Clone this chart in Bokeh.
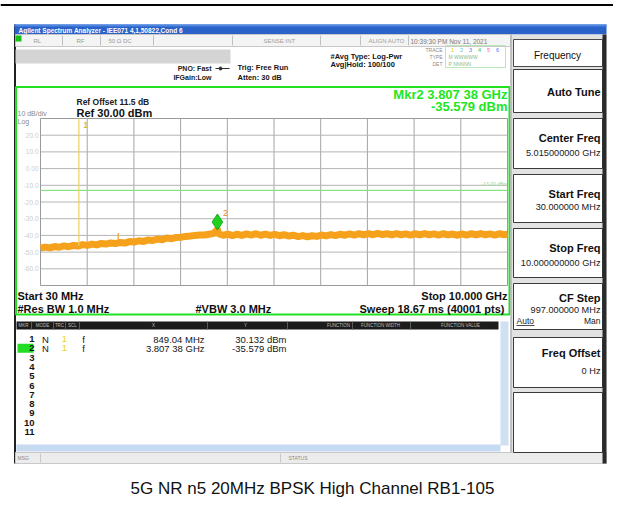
from bokeh.plotting import figure
from bokeh.models import Range1d
from bokeh.embed import file_html
from bokeh.resources import INLINE
from bokeh.core.properties import value

# ---------------- data ----------------
start_ghz = 0.03
stop_ghz = 10.0
ref_dbm = 30.0
bottom_dbm = -70.0
display_line_dbm = -13.0

freq_ghz = [0.03, 0.13, 0.23, 0.33, 0.43, 0.53, 0.63, 0.73, 0.83, 0.93,
            1.03, 1.13, 1.23, 1.33, 1.43, 1.53, 1.63, 1.73, 1.83, 1.93,
            2.03, 2.13, 2.23, 2.33, 2.43, 2.53, 2.63, 2.73, 2.83, 2.93,
            3.03, 3.13, 3.23, 3.33, 3.43, 3.53, 3.63, 3.73, 3.807, 3.83, 3.93,
            4.03, 4.13, 4.23, 4.33, 4.43, 4.53, 4.63, 4.73, 4.83, 4.93,
            5.03, 5.13, 5.23, 5.33, 5.43, 5.53, 5.63, 5.73, 5.83, 5.93,
            6.03, 6.13, 6.23, 6.33, 6.43, 6.53, 6.63, 6.73, 6.83, 6.93,
            7.03, 7.13, 7.23, 7.33, 7.43, 7.53, 7.63, 7.73, 7.83, 7.93,
            8.03, 8.13, 8.23, 8.33, 8.43, 8.53, 8.63, 8.73, 8.83, 8.93,
            9.03, 9.13, 9.23, 9.33, 9.43, 9.53, 9.63, 9.73, 9.83, 9.93, 10.0]
level_dbm = [-47.6, -47.0, -47.5, -46.7, -47.1, -46.3, -46.8, -46.0, -46.4, -45.5,
             -46.0, -45.2, -45.7, -44.8, -45.2, -44.5, -44.9, -44.2, -44.6, -43.7,
             -44.0, -43.2, -43.6, -42.7, -43.0, -42.2, -42.6, -41.6, -42.0, -41.2,
             -41.1, -40.6, -40.4, -40.0, -39.7, -39.8, -39.3, -38.8, -36.4, -39.0, -39.9,
             -39.2, -40.1, -39.3, -40.0, -39.1, -39.8, -39.0, -39.9, -39.2, -40.0,
             -39.4, -40.2, -39.6, -40.4, -39.9, -40.7, -40.1, -40.8, -40.2, -40.6,
             -39.8, -40.3, -39.5, -40.1, -39.3, -39.9, -39.1, -39.8, -39.0, -39.7,
             -38.9, -39.6, -38.8, -39.5, -39.0, -39.7, -38.9, -39.6, -39.1, -39.8,
             -39.0, -39.7, -38.9, -39.6, -39.1, -39.8, -39.0, -39.7, -39.2, -39.9,
             -39.1, -39.8, -39.0, -39.7, -38.9, -39.6, -39.1, -39.8, -39.0, -39.6, -39.3]

spur_freq_ghz = [1.69]
spur_level_dbm = [-38.5]
spur_floor_dbm = [-44.6]

x_grid_ghz = [1.027, 2.024, 3.021, 4.018, 5.015, 6.012, 7.009, 8.006, 9.003]
y_ticks_dbm = [20, 10, 0, -10, -20, -30, -40, -50, -60]
y_tick_labels = ["20.0", "10.0", "0.00", "-10.0", "-20.0", "-30.0", "-40.0", "-50.0", "-60.0"]

mkr_ids = ["1", "2"]
mkr_freq_ghz = [0.84904, 3.80738]
mkr_level_dbm = [30.132, -35.579]
mkr_floor_dbm = -46.2
mkr_x_text = ["849.04 MHz", "3.807 38 GHz"]
mkr_y_text = ["30.132 dBm", "-35.579 dBm"]

softkey_labels = ["Auto Tune", "Center Freq", "Start Freq", "Stop Freq", "CF Step", "Freq Offset"]
softkey_values = ["", "5.015000000 GHz", "30.000000 MHz", "10.000000000 GHz", "997.000000 MHz", "0 Hz"]

caption = "5G NR n5 20MHz BPSK High Channel RB1-105"

# ---------------- figure ----------------
W, H = 613, 506
p = figure(width=W, height=H, x_range=Range1d(0, W), y_range=Range1d(H, 0),
           output_backend="svg", toolbar_location=None, min_border=0,
           x_axis_location=None, y_axis_location=None)
p.grid.visible = False
p.outline_line_color = None
p.background_fill_color = "white"
p.border_fill_color = "white"

# graticule pixel box (page coords) -> extra ranges for the spectrum
GX0, GX1, GY0, GY1 = 40, 507, 118, 285
fpp = (stop_ghz - start_ghz) / (GX1 - GX0)
dpp = (ref_dbm - bottom_dbm) / (GY1 - GY0)
p.extra_x_ranges = {"f": Range1d(start_ghz - GX0 * fpp, stop_ghz + (W - GX1) * fpp)}
p.extra_y_ranges = {"db": Range1d(bottom_dbm - (H - GY1) * dpp, ref_dbm + GY0 * dpp)}
SPEC = dict(x_range_name="f", y_range_name="db")

FONT = "Liberation Sans"


def rect(x0, y0, x1, y1, fill, line=None, lw=1):
    p.quad(left=[x0], right=[x1], top=[y0], bottom=[y1], fill_color=fill,
           line_color=line, line_width=lw)


def seg(x0, y0, x1, y1, color, lw=1):
    p.segment(x0=[x0], y0=[y0], x1=[x1], y1=[y1], line_color=color, line_width=lw)


def txt(x, y, s, size, color="#151515", align="left", bold=False, baseline="middle"):
    p.text(x=[x], y=[y], text=[s], text_font=value(FONT), text_font_size=f"{size}px",
           text_color=color, text_align=align, text_baseline=baseline,
           text_font_style="bold" if bold else "normal")


# top rule
seg(0, 4.5, W, 4.5, "#000000", 2)

# window frame
rect(14, 24, 606, 463, "#ffffff", None)
seg(14.5, 24, 14.5, 463, "#202020", 2)
# title bar
rect(14, 24, 606, 34, "#2a62c9", None)
rect(14, 24, 606, 26, "#4f86e0", None)
txt(18, 29.5, "Agilent Spectrum Analyzer - IEE071 4,1,50822,Cond 6", 6.5, "#ffffff", bold=True)

# toolbar row
rect(15, 34, 510, 46, "#f4f4f4", "#c8c8c8")
rect(15, 35, 21, 41, "#16c216", None)
for sx in [62, 100, 153, 232, 320, 360, 408]:
    seg(sx, 35, sx, 45, "#c0c0c0")
txt(33, 40, "RL", 6, "#9a9a9a")
txt(76, 40, "RF", 6, "#9a9a9a")
txt(108, 40, "50 \u03a9  DC", 6, "#9a9a9a")
txt(263, 40, "SENSE:INT", 6, "#a0a0a0")
txt(368, 40, "ALIGN AUTO", 6, "#a0a0a0")
txt(410, 41, "10:39:30 PM Nov 11, 2021", 6.5, "#7a7a7a")

# settings area
rect(15, 49, 230, 63, "#d4d4d4", None)
txt(211, 68, "PNO: Fast", 7, "#202020", align="right", bold=True)
seg(215, 68, 229, 68, "#303030", 1)
p.scatter(x=[220], y=[68], size=3, color="#303030")
txt(211, 77, "IFGain:Low", 7, "#202020", align="right", bold=True)
txt(237, 67, "Trig: Free Run", 7.5, "#151515", bold=True)
txt(237, 77, "Atten: 30 dB", 7.5, "#151515", bold=True)
txt(330, 56, "#Avg Type: Log-Pwr", 7.5, "#151515", bold=True)
txt(330, 64, "Avg|Hold: 100/100", 7.5, "#151515", bold=True)
txt(442, 49, "TRACE", 5, "#8a8a8a", align="right")
txt(442, 56, "TYPE", 5, "#8a8a8a", align="right")
txt(442, 63, "DET", 5, "#8a8a8a", align="right")
rect(445, 45, 505, 67, None, "#b8e8b8")
for i, c in enumerate(["#d8c800", "#38c8e8", "#6a6aff", "#30c030", "#ff60c0", "#4080ff"]):
    txt(452 + i * 9, 49, str(i + 1), 5.5, c, align="center")
txt(448, 56, "M WWWWW", 5, "#8ab88a")
txt(448, 63, "P NNNNN", 5, "#8ab88a")

# green measurement frame
rect(15.5, 86.5, 509, 314, "#ffffff", "#22e022", 2)
txt(76, 101, "Ref Offset 11.5 dB", 8.5, "#202020", bold=True)
txt(76, 112, "Ref 30.00 dBm", 11, "#101010", bold=True)
txt(17, 113, "10 dB/div", 7, "#8a8a8a")
txt(17, 121, "Log", 7, "#8a8a8a")
txt(507, 94, "Mkr2 3.807 38 GHz", 13, "#1ee61e", align="right", bold=True)
txt(507, 106, "-35.579 dBm", 13, "#1ee61e", align="right", bold=True)
txt(17, 295, "Start 30 MHz", 11, "#101010", bold=True)
txt(17, 308, "#Res BW 1.0 MHz", 11, "#101010", bold=True)
txt(195, 308, "#VBW 3.0 MHz", 11, "#101010", bold=True)
txt(507, 295, "Stop 10.000 GHz", 11, "#101010", align="right", bold=True)
txt(507, 308, "Sweep  18.67 ms (40001 pts)", 11, "#101010", align="right", bold=True)

# graticule
n = len(x_grid_ghz)
p.segment(x0=x_grid_ghz, y0=[bottom_dbm] * n, x1=x_grid_ghz, y1=[ref_dbm] * n,
          line_color="#a4a4a4", line_width=1, **SPEC)
m = len(y_ticks_dbm)
p.segment(x0=[start_ghz] * m, y0=y_ticks_dbm, x1=[stop_ghz] * m, y1=y_ticks_dbm,
          line_color="#b4b4b4", line_width=1, **SPEC)
p.quad(left=[start_ghz], right=[stop_ghz], top=[ref_dbm], bottom=[bottom_dbm],
       fill_color=None, line_color="#9a9a9a", line_width=1, **SPEC)
p.text(x=[start_ghz] * m, y=y_ticks_dbm, text=y_tick_labels, x_offset=-2,
       text_font=value(FONT), text_font_size="6.5px", text_color="#cdcdcd",
       text_align="right", text_baseline="middle", **SPEC)

# display line
p.segment(x0=[start_ghz], y0=[display_line_dbm], x1=[stop_ghz], y1=[display_line_dbm],
          line_color="#86e486", line_width=1.2, **SPEC)
p.text(x=[stop_ghz], y=[display_line_dbm], text=["-13.00 dBm"], y_offset=-3,
       text_font=value(FONT), text_font_size="5px", text_color="#9ad89a",
       text_align="right", text_baseline="bottom", **SPEC)

# trace
p.line(x=freq_ghz, y=level_dbm, line_color="#f6a11c", line_width=7,
       line_join="round", **SPEC)
p.segment(x0=spur_freq_ghz, y0=spur_floor_dbm, x1=spur_freq_ghz, y1=spur_level_dbm,
          line_color="#f3a030", line_width=1.2, **SPEC)

# marker 1 carrier spike and markers
p.segment(x0=[mkr_freq_ghz[0]], y0=[mkr_floor_dbm], x1=[mkr_freq_ghz[0]], y1=[mkr_level_dbm[0]],
          line_color="#ecd25a", line_width=1.2, **SPEC)
p.text(x=[mkr_freq_ghz[0]], y=[mkr_level_dbm[0]], text=[mkr_ids[0]], x_offset=7, y_offset=7,
       text_font=value(FONT), text_font_size="9px", text_color="#d8c020",
       text_align="center", text_baseline="middle", text_font_style="bold", **SPEC)
p.scatter(x=[mkr_freq_ghz[1]], y=[mkr_level_dbm[1] + 6 * dpp], marker="diamond", size=16,
          fill_color="#1ed21e", line_color="#0a9a0a", line_width=0.8, **SPEC)
p.text(x=[mkr_freq_ghz[1]], y=[mkr_level_dbm[1]], text=[mkr_ids[1]], x_offset=8, y_offset=-15,
       text_font=value(FONT), text_font_size="9px", text_color="#f08a20",
       text_align="center", text_baseline="middle", **SPEC)

# marker table
rect(15.5, 316, 509, 452, "#ffffff", None)
rect(16, 321, 498, 329, "#1c1c1c", None)
for hx, hs in [(23, "MKR"), (42, "MODE"), (59, "TRC"), (72, "SCL"), (153, "X"), (245, "Y"),
               (338, "FUNCTION"), (380, "FUNCTION WIDTH"), (460, "FUNCTION VALUE")]:
    txt(hx, 325, hs, 4.5, "#bdbdbd", align="center")
for sx in [31, 53, 65, 79, 207, 287, 352, 410]:
    seg(sx, 321, sx, 329, "#5a5a5a")
rect(500, 321, 508, 445, "#cfe0f4", None)
rect(16, 444, 500, 451, "#c6daf2", None)
row0, rstep = 338.5, 9.3
rect(17, row0 + rstep - 4.5, 33, row0 + rstep + 4.5, "#22dd22", None)
for i in range(11):
    txt(34, row0 + i * rstep, str(i + 1), 9.5, "#151515", align="right", bold=True)
for i in range(len(mkr_ids)):
    y = row0 + i * rstep
    txt(45, y, "N", 9.5, "#151515", align="center")
    txt(64, y, "1", 9.5, "#e8d21d", align="center")
    txt(83, y, "f", 9.5, "#151515", align="center")
    txt(204, y, mkr_x_text[i], 9.5, "#151515", align="right")
    txt(286, y, mkr_y_text[i], 9.5, "#151515", align="right")

# status bar
rect(15, 452, 606, 463, "#ececec", "#c8c8c8")
seg(40, 453, 40, 462, "#c8c8c8")
seg(280, 453, 280, 462, "#c8c8c8")
txt(17, 457.5, "MSG", 5, "#8a8a8a")
txt(288, 457.5, "STATUS", 5, "#8a8a8a")

# right soft-key panel
rect(510, 34, 606, 452, "#e2e2e2", None)
seg(510.5, 34, 510.5, 452, "#9a9a9a")
rect(513, 39, 602, 66, "#ffffff", "#4a4a4a")
txt(557, 55, "Frequency", 10, "#101010", align="center")
# (box top, box bottom, label y, value y)
key_layout = [(69, 112, 91, 0), (118, 168, 137, 152), (174, 222, 193, 206),
              (228, 277, 247, 262), (283, 329, 297, 309), (337, 387, 352, 370)]
for (y0, y1, ly, vy), lab, val in zip(key_layout, softkey_labels, softkey_values):
    rect(513, y0, 602, y1, "#ffffff", "#3a3a3a")
    txt(600, ly, lab, 11, "#101010", align="right", bold=True)
    if val:
        txt(600, vy, val, 9.2, "#202020", align="right")
txt(516, 320, "Auto", 8.5, "#202020")
seg(516, 325, 534, 325, "#202020", 0.8)
txt(600, 320, "Man", 8.5, "#202020", align="right")
rect(513, 392, 602, 452, "#ffffff", "#3a3a3a")
rect(602, 34, 606, 463, "#2a2a2a", None)

# caption
txt(312, 488, caption, 17, "#111111", align="center")

open("out.html", "w").write(file_html(p, INLINE))
